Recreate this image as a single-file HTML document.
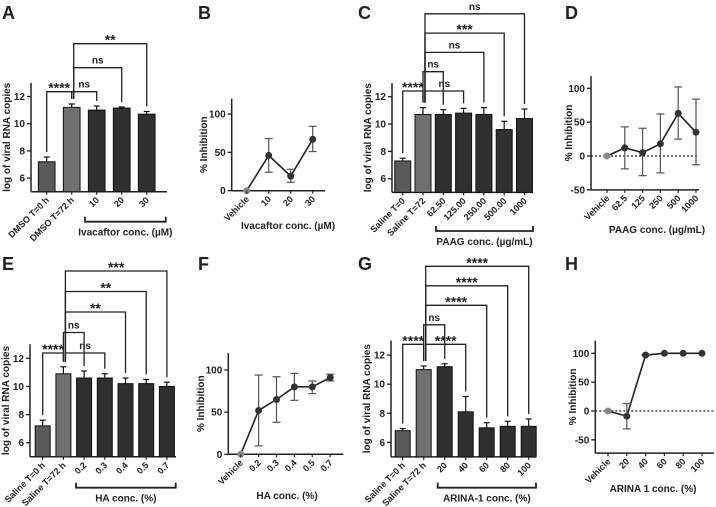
<!DOCTYPE html>
<html><head><meta charset="utf-8"><style>
body{margin:0;background:#fff}
svg{display:block;font-family:"Liberation Sans",Arial,sans-serif;font-weight:bold}
</style></head><body>
<svg id="fig" width="716" height="507" viewBox="0 0 716 507" xmlns="http://www.w3.org/2000/svg"></svg>
<script>
// ---------- Data ----------
const aCats=["DMSO T=0 h","DMSO T=72 h","10","20","30"];
const aVals=[7.2,11.2,11.0,11.15,10.7];
const aErr=[0.35,0.25,0.3,0.08,0.2];
const aBrackets=[[0,1,"****",0],[1,2,"ns",0],[1,3,"ns",1],[1,4,"**",2]];
const bCats=["Vehicle","10","20","30"];
const bVals=[0,46,19,67];
const bLow=[0,24,11,51];
const bHigh=[0,68,28,84];
const cCats=["Saline T=0","Saline T=72","62.50","125.00","250.00","500.00","1000"];
const cVals=[7.3,10.7,10.7,10.8,10.7,9.6,10.4];
const cErr=[0.2,0.5,0.35,0.35,0.5,0.6,0.7];
const cBrackets=[[0,1,"****",0],[1,3,"ns",0],[1,2,"ns",1],[1,4,"ns",2],[1,5,"***",3],[1,6,"ns",4]];
const dCats=["Vehicle","62.5","125","250","500","1000"];
const dVals=[0,12,5,18,63,35];
const dLow=[0,-19,-29,-25,25,-13];
const dHigh=[0,43,41,62,102,84];
const eCats=["Saline T=0 h","Saline T=72 h","0.2","0.3","0.4","0.5","0.7"];
const eVals=[7.2,10.9,10.6,10.6,10.2,10.2,10.0];
const eErr=[0.4,0.5,0.5,0.3,0.4,0.3,0.3];
const eBrackets=[[0,1,"****",0],[1,3,"ns",0],[1,2,"ns",1],[1,4,"**",2],[1,5,"**",3],[1,6,"***",4]];
const fCats=["Vehicle","0.2","0.3","0.4","0.5","0.7"];
const fVals=[0,52,65,80,80,91];
const fLow=[0,10,38,64,72,87];
const fHigh=[0,94,92,96,87,95];
const gCats=["Saline T=0 h","Saline T=72 h","20","40","60","80","100"];
const gVals=[6.8,11.0,11.2,8.1,7.0,7.1,7.1];
const gErr=[0.15,0.25,0.2,1.05,0.35,0.35,0.5];
const gBrackets=[[0,1,"****",0],[1,3,"****",0],[1,2,"ns",1],[1,4,"****",2],[1,5,"****",3],[1,6,"****",4]];
const hCats=["Vehicle","20","40","60","80","100"];
const hVals=[0,-9,97,100,100,100];
const hLow=[0,-31,96,100,100,100];
const hHigh=[0,13,98,100,100,100];
const barTicks=[6,8,10,12];

// ---------- Helpers ----------
const NS="http://www.w3.org/2000/svg";
const svg=document.getElementById("fig");
function mk(tag,attrs,parent,text){const e=document.createElementNS(NS,tag);for(const k in attrs)e.setAttribute(k,attrs[k]);if(text!==undefined)e.textContent=text;(parent||svg).appendChild(e);return e;}
function line(p,x1,y1,x2,y2,w,c,name,dash){const l=mk("line",{x1,y1,x2,y2,stroke:c||"#222","stroke-width":w||1.5},p);if(dash)l.setAttribute("stroke-dasharray",dash);

return l;}
function txt(p,x,y,s,size,anchor,name,rot){const t=mk("text",{x,y,"font-size":size||9,"text-anchor":anchor||"middle",fill:"#222"},p,s);if(rot!==undefined)t.setAttribute("transform",`rotate(${rot} ${x} ${y})`);

return t;}

function letter(s,x,y){txt(svg,x,y,s,18,"start","panel-letter-"+s.toLowerCase());}

function yAxis(g,ax,yTop,yBot,ticks,ys,title,titleX,prefix){
  line(g,ax,yTop,ax,yBot,1.5,"#222",prefix+"-y-axis");
  ticks.forEach(t=>{const y=ys(t);line(g,ax-4,y,ax,y,1.3,"#222",prefix+"-y-tick");txt(g,ax-6,y+3.5,String(t),10,"end",prefix+"-y-tick-label");});
  const cy=(yTop+yBot)/2;txt(g,titleX,cy,title,10,"middle",prefix+"-y-axis-title",-90);
}

function barPanel(pfx,cfg,cats,vals,errs,brackets){
  const g=mk("g",{});
  
  
  const ys=v=>cfg.yb-(v-5)*cfg.k;
  const xs=i=>cfg.x0+i*cfg.step;
  yAxis(g,cfg.ax,ys(13),ys(5),barTicks,ys,"log of viral RNA copies",cfg.titleX,pfx);
  line(g,cfg.ax,ys(5),cfg.axEnd,ys(5),1.5,"#222",pfx+"-x-axis");
  const cols=["#5a5a5a","#707070"];
  cats.forEach((c,i)=>{
    const x=xs(i),y=ys(vals[i]);
    const r=mk("rect",{x:x-cfg.w/2,y:y,width:cfg.w,height:ys(5)-y,fill:cols[i]||"#2f2f2f",stroke:"#111","stroke-width":1},g);
    
    
    const eh=ys(vals[i]+errs[i]);
    line(g,x,eh,x,y,1.2,"#111",pfx+"-error-bar");
    line(g,x-3,eh,x+3,eh,1.2,"#111",pfx+"-error-cap");
    line(g,x,ys(5),x,ys(5)+3,1.2,"#222",pfx+"-x-tick");
    txt(g,x+3,ys(5)+9,c,9,"end",pfx+"-x-tick-label",-45);
  });
  brackets.forEach(b=>{
    const [i,j,lab,lv]=b;const yb=cfg.bBase-lv*cfg.bGap;
    const x1=xs(i)+(i===1&&j>2?2:0),x2=xs(j);
    const p=mk("path",{d:`M${x1},${ys(vals[i]+errs[i])-5} V${yb} H${x2} V${ys(vals[j]+errs[j])-5}`,fill:"none",stroke:"#222","stroke-width":1.3},g);
    
    
    if(lab==="ns")txt(g,(x1+x2)/2,yb-4,lab,10,"middle",pfx+"-significance-label");
    else txt(g,(x1+x2)/2,yb+1,lab,14,"middle",pfx+"-significance-label");
  });
  const uy=cfg.uy;
  const u=mk("path",{d:`M${cfg.u0},${uy-5} V${uy} H${cfg.u1} V${uy-5}`,fill:"none",stroke:"#222","stroke-width":1.8},g);
  
  
  txt(g,(cfg.u0+cfg.u1)/2,uy+14,cfg.group,10,"middle",pfx+"-x-axis-title");
}

function linePanel(pfx,cfg,cats,vals,lo,hi){
  const g=mk("g",{});
  
  
  const ys=v=>cfg.y0-v*cfg.k;
  const xs=i=>cfg.x0+i*cfg.step;
  yAxis(g,cfg.ax,ys(cfg.ymax),ys(cfg.ymin),cfg.ticks,ys,"% Inhibition",cfg.titleX,pfx);
  line(g,cfg.ax,ys(cfg.ymin),cfg.axEnd,ys(cfg.ymin),1.5,"#222",pfx+"-x-axis");
  if(cfg.ymin<0)line(g,cfg.ax,ys(0),cfg.axEnd,ys(0),1.2,"#222",pfx+"-zero-line","2,2");
  let d="";
  cats.forEach((c,i)=>{d+=(i?"L":"M")+xs(i)+","+ys(vals[i]);});
  const pl=mk("path",{d,fill:"none",stroke:"#222","stroke-width":1.6},g);
  
  
  cats.forEach((c,i)=>{
    const x=xs(i);
    if(hi[i]!==lo[i]){line(g,x,ys(hi[i]),x,ys(lo[i]),1.2,"#555",pfx+"-error-bar");
      line(g,x-4,ys(hi[i]),x+4,ys(hi[i]),1.2,"#555",pfx+"-error-cap");line(g,x-4,ys(lo[i]),x+4,ys(lo[i]),1.2,"#555",pfx+"-error-cap");}
    const pt=mk("circle",{cx:x,cy:ys(vals[i]),r:3.5,fill:i===0?"#888":"#333"},g);
    
    
    line(g,x,ys(cfg.ymin),x,ys(cfg.ymin)+3,1.2,"#222",pfx+"-x-tick");
    txt(g,x+3,ys(cfg.ymin)+9,c,9,"end",pfx+"-x-tick-label",-45);
  });
  txt(g,cfg.tx,cfg.ty,cfg.title,10,"middle",pfx+"-x-axis-title");
}

// ---------- Panels ----------
letter("A",2,19);letter("B",198,19);letter("C",358,19);letter("D",565,19);
letter("E",2,270);letter("F",198,270);letter("G",358,270);letter("H",565,270);

barPanel("a",{ax:31,axEnd:167,x0:46.7,step:25,w:16.7,yb:191.7,k:13.6,titleX:10,bBase:91.7,bGap:24,uy:221.7,u0:85,u1:165.7,group:"Ivacaftor conc. (\u00b5M)"},aCats,aVals,aErr,aBrackets);
linePanel("b",{ax:231.7,axEnd:325,x0:246.7,step:22,y0:190.7,k:0.767,ymin:0,ymax:120,ticks:[0,50,100],titleX:207,tx:288,ty:229,title:"Ivacaftor conc. (\u00b5M)"},bCats,bVals,bLow,bHigh);
barPanel("c",{ax:392,axEnd:533,x0:402.7,step:20.3,w:16,yb:192.4,k:13.67,titleX:371,bBase:91,bGap:19.3,uy:231,u0:436,u1:533,group:"PAAG conc. (\u00b5g/mL)"},cCats,cVals,cErr,cBrackets);
linePanel("d",{ax:591,axEnd:699,x0:607,step:17.8,y0:156,k:0.677,ymin:-50,ymax:118,ticks:[-50,0,50,100],titleX:572,tx:657,ty:233,title:"PAAG conc. (\u00b5g/mL)"},dCats,dVals,dLow,dHigh);
barPanel("e",{ax:30,axEnd:176,x0:42.7,step:20.7,w:15,yb:456.8,k:14.07,titleX:9,bBase:353,bGap:20.5,uy:487.7,u0:76,u1:175.7,group:"HA conc. (%)"},eCats,eVals,eErr,eBrackets);
linePanel("f",{ax:228.3,axEnd:343.3,x0:240.7,step:17.9,y0:454.3,k:0.843,ymin:0,ymax:120,ticks:[0,50,100],titleX:204,tx:287,ty:499,title:"HA conc. (%)"},fCats,fVals,fLow,fHigh);
barPanel("g",{ax:391,axEnd:536,x0:402.7,step:21,w:15,yb:456.9,k:14.55,titleX:370,bBase:344.3,bGap:19.5,uy:487.7,u0:437.7,u1:536,group:"ARINA-1 conc. (%)"},gCats,gVals,gErr,gBrackets);
linePanel("h",{ax:595.3,axEnd:714,x0:608,step:18.8,y0:411,k:0.577,ymin:-73,ymax:122,ticks:[-50,0,50,100],titleX:576,tx:653,ty:492,title:"ARINA 1 conc. (%)"},hCats,hVals,hLow,hHigh);
</script>
</body></html>
